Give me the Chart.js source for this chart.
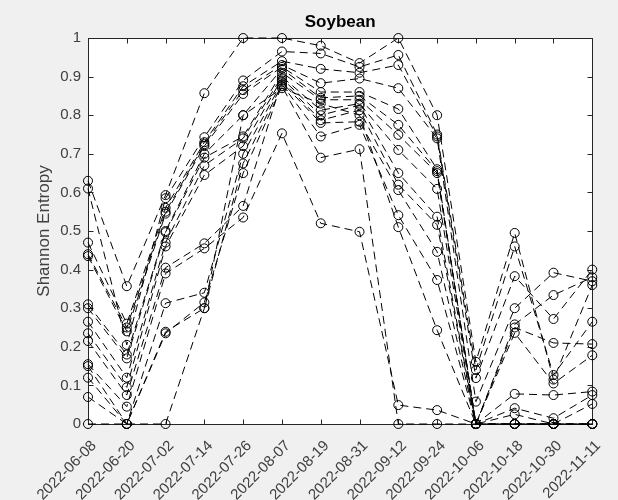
<!DOCTYPE html>
<html>
<head>
<meta charset="utf-8">
<script src="https://cdn.jsdelivr.net/npm/chart.js@4.4.1/dist/chart.umd.min.js"></script>
<style>
  html, body { margin: 0; padding: 0; background: #f0f0f0; }
  #wrap { width: 618px; height: 500px; }
</style>
</head>
<body>
<div id="wrap"><canvas id="c" width="618" height="500"></canvas></div>
<script>
// Acquisition dates (x axis categories)
const dates = ['2022-06-08', '2022-06-20', '2022-07-02', '2022-07-14', '2022-07-26', '2022-08-07', '2022-08-19',
               '2022-08-31', '2022-09-12', '2022-09-24', '2022-10-06', '2022-10-18', '2022-10-30', '2022-11-11'];

// Y axis tick values
const yTicks = [0, 0.1, 0.2, 0.3, 0.4, 0.5, 0.6, 0.7, 0.8, 0.9, 1];

// Shannon entropy per field, one array per field
const series01 = [0.63, 0.357, 0.593, 0.857, 1.0, 1.0, 0.98, 0.935, 1.0, 0.80, 0.161, 0.495, 0.115, 0.36];
const series02 = [0.61, 0.205, 0.585, 0.743, 0.89, 0.965, 0.96, 0.925, 0.956, 0.75, 0.14, 0.46, 0.127, 0.265];
const series03 = [0.47, 0.26, 0.56, 0.73, 0.875, 0.94, 0.92, 0.91, 0.93, 0.745, 0.119, 0.383, 0.272, 0.40];
const series04 = [0.44, 0.25, 0.55, 0.725, 0.865, 0.93, 0.883, 0.895, 0.87, 0.74, 0.058, 0.30, 0.392, 0.37];
const series05 = [0.435, 0.24, 0.545, 0.72, 0.855, 0.925, 0.86, 0.86, 0.816, 0.66, 0, 0.258, 0.334, 0.38];
const series06 = [0.31, 0.18, 0.50, 0.70, 0.80, 0.92, 0.845, 0.85, 0.775, 0.655, 0, 0.25, 0.21, 0.207];
const series07 = [0.30, 0.17, 0.497, 0.69, 0.745, 0.91, 0.84, 0.84, 0.749, 0.65, 0, 0.236, 0.105, 0.178];
const series08 = [0.265, 0.12, 0.47, 0.67, 0.74, 0.90, 0.813, 0.83, 0.71, 0.609, 0, 0.078, 0.075, 0.084];
const series09 = [0.235, 0.095, 0.46, 0.645, 0.72, 0.895, 0.80, 0.826, 0.65, 0.537, 0, 0.041, 0.015, 0.075];
const series10 = [0.215, 0.075, 0.405, 0.468, 0.565, 0.89, 0.787, 0.813, 0.62, 0.516, 0, 0.025, 0, 0.052];
const series11 = [0.155, 0.045, 0.39, 0.455, 0.535, 0.753, 0.52, 0.498, 0.049, 0.036, 0, 0, 0, 0];
const series12 = [0.15, 0, 0.313, 0.34, 0.70, 0.885, 0.78, 0.783, 0.606, 0.446, 0, 0, 0, 0];
const series13 = [0.12, 0, 0.239, 0.30, 0.675, 0.88, 0.745, 0.775, 0.541, 0.373, 0, 0, 0, 0];
const series14 = [0.07, 0, 0.235, 0.315, 0.65, 0.875, 0.69, 0.712, 0, 0, 0, 0, 0, 0];
const series15 = [0, 0, 0, 0.30, 0.80, 0.87, 0.83, 0.80, 0.51, 0.243, 0, 0, 0, 0];

const allSeries = [series01, series02, series03, series04, series05, series06, series07, series08,
                   series09, series10, series11, series12, series13, series14, series15];

const FONT = "'Liberation Sans', Arial, Helvetica, sans-serif";
const AXIS_COLOR = '#262626';
const TEXT_COLOR = '#404040';
const TICK_LEN = 5;

// Grey figure background, white plot area, boxed axes with inward ticks on all sides
const boxedAxes = {
  id: 'boxedAxes',
  beforeDraw(chart) {
    const { ctx, chartArea: a } = chart;
    ctx.save();
    ctx.fillStyle = '#f0f0f0';
    ctx.fillRect(0, 0, chart.width, chart.height);
    ctx.fillStyle = '#ffffff';
    ctx.fillRect(a.left, a.top, a.right - a.left, a.bottom - a.top);
    ctx.restore();
  },
  beforeDatasetsDraw(chart) {
    const { ctx, chartArea: a, scales } = chart;
    const L = Math.round(a.left) + 0.5, R = Math.round(a.right) + 0.5;
    const T = Math.round(a.top) + 0.5, B = Math.round(a.bottom) + 0.5;
    ctx.save();
    ctx.strokeStyle = AXIS_COLOR;
    ctx.lineWidth = 1;
    ctx.strokeRect(L, T, R - L, B - T);
    ctx.beginPath();
    scales.x.ticks.forEach((t, i) => {
      const x = Math.round(scales.x.getPixelForTick(i)) + 0.5;
      ctx.moveTo(x, B); ctx.lineTo(x, B - TICK_LEN);
      ctx.moveTo(x, T); ctx.lineTo(x, T + TICK_LEN);
    });
    scales.y.ticks.forEach((t, i) => {
      const y = Math.round(scales.y.getPixelForTick(i)) + 0.5;
      ctx.moveTo(L, y); ctx.lineTo(L + TICK_LEN, y);
      ctx.moveTo(R, y); ctx.lineTo(R - TICK_LEN, y);
    });
    ctx.stroke();
    ctx.restore();
  }
};

const datasets = allSeries.map((values, i) => ({
  label: 'Field ' + (i + 1),
  data: values,
  borderColor: '#000000',
  borderWidth: 1,
  borderDash: [8, 5],
  fill: false,
  tension: 0,
  clip: false,
  pointStyle: 'circle',
  pointRadius: 4.5,
  pointHoverRadius: 4.5,
  pointBorderWidth: 1,
  pointBorderColor: '#000000',
  pointBackgroundColor: 'rgba(0,0,0,0)'
}));

new Chart(document.getElementById('c'), {
  type: 'line',
  data: { labels: dates, datasets },
  plugins: [boxedAxes],
  options: {
    responsive: false,
    animation: false,
    events: [],
    layout: { padding: { left: 30, right: 11, top: 0, bottom: 0 } },
    plugins: {
      legend: { display: false },
      tooltip: { enabled: false },
      title: {
        display: true,
        text: 'Soybean',
        fullSize: false,
        color: '#000000',
        font: { family: FONT, size: 17, weight: 'bold' },
        padding: { top: 12, bottom: 5.6 }
      }
    },
    scales: {
      x: {
        type: 'category',
        offset: false,
        grid: { display: false, drawTicks: false },
        border: { display: false },
        ticks: {
          autoSkip: false,
          minRotation: 45,
          maxRotation: 45,
          padding: 13,
          labelOffset: 6,
          color: TEXT_COLOR,
          font: { family: FONT, size: 15 }
        },
        afterFit(scale) { scale.height = 76; }
      },
      y: {
        min: 0,
        max: 1,
        grid: { display: false, drawTicks: false },
        border: { display: false },
        afterBuildTicks(scale) { scale.ticks = yTicks.map(v => ({ value: v })); },
        ticks: {
          padding: 7,
          color: TEXT_COLOR,
          font: { family: FONT, size: 15 },
          callback: v => String(Math.round(v * 10) / 10)
        },
        title: {
          display: true,
          text: 'Shannon Entropy',
          color: TEXT_COLOR,
          font: { family: FONT, size: 17 },
          padding: { top: 4, bottom: 4 }
        },
        afterFit(scale) { scale.width = 58; }
      }
    }
  }
});
</script>
</body>
</html>
